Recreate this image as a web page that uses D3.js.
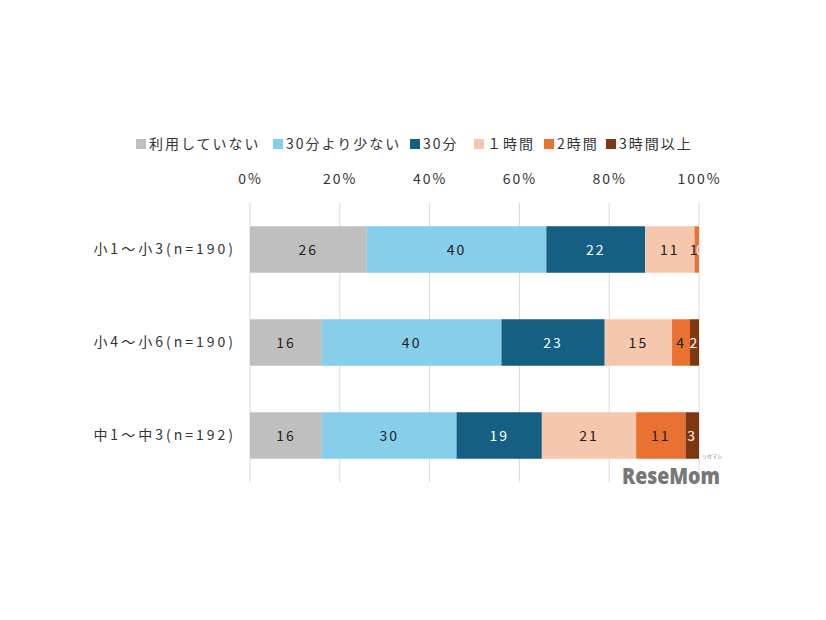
<!DOCTYPE html>
<html><head><meta charset="utf-8">
<script src="https://cdn.jsdelivr.net/npm/d3@7"></script>
<style>body{margin:0;background:#fff}</style>
</head><body>
<svg id="c" width="826" height="620"></svg>
<script>
const categories = ["小1～小3(n=190)", "小4～小6(n=190)", "中1～中3(n=192)"];
const seriesNames = ["利用していない", "30分より少ない", "30分", "１時間", "2時間", "3時間以上"];
const s0 = [26, 16, 16];
const s1 = [40, 40, 30];
const s2 = [22, 23, 19];
const s3 = [11, 15, 21];
const s4 = [1, 4, 11];
const s5 = [0, 2, 3];
const tickValues = [0, 20, 40, 60, 80, 100];
const colors = ["#bfbfbf", "#87ceeb", "#155f82", "#f5c7ad", "#e97132", "#7f3712"];
const labelColors = ["#222", "#222", "#fff", "#222", "#222", "#fff"];

const series = [s0, s1, s2, s3, s4, s5];
const data = categories.map((c, i) => {
  const o = {cat: c};
  seriesNames.forEach((n, j) => o[n] = series[j][i]);
  return o;
});
const stack = d3.stack().keys(seriesNames)(data);

const svg = d3.select("#c");
const font = "'Noto Sans CJK JP', 'Noto Sans', sans-serif";
const x = d3.scaleLinear().domain([0, 100]).range([250, 699]);
const y = d3.scaleBand().domain(categories).range([203, 482]).paddingInner(0.5).paddingOuter(0.25);

// gridlines
svg.append("g").selectAll("line").data(tickValues).join("line")
  .attr("x1", d => x(d)).attr("x2", d => x(d))
  .attr("y1", 203).attr("y2", 482)
  .attr("stroke", "#d9d9d9").attr("stroke-width", 1);

// top axis labels
const ax = d3.axisTop(x).tickValues(tickValues).tickFormat(d => d + "%").tickSize(0).tickPadding(0);
const axg = svg.append("g").attr("transform", "translate(0,184)").call(ax);
axg.select(".domain").remove();
axg.selectAll("text").attr("font-family", font).attr("font-size", 14)
  .attr("fill", "#333").attr("letter-spacing", "2px");

// bars
const layers = svg.append("g").selectAll("g").data(stack).join("g")
  .attr("fill", (d, i) => colors[i]);
layers.selectAll("rect").data(d => d).join("rect")
  .attr("x", d => x(d[0])).attr("width", d => x(d[1]) - x(d[0]))
  .attr("y", d => y(d.data.cat)).attr("height", y.bandwidth());

// value labels
stack.forEach((layer, i) => {
  svg.append("g").selectAll("text").data(layer).join("text")
    .attr("x", d => (x(d[0]) + x(d[1])) / 2 + (d[1]-d[0] < 2 ? (i === 4 ? -2 : 2) : 0))
    .attr("y", d => y(d.data.cat) + y.bandwidth() / 2)
    .attr("dy", "0.36em")
    .attr("text-anchor", "middle")
    .attr("font-family", font).attr("font-size", 14)
    .attr("letter-spacing", "2px")
    .attr("fill", labelColors[i])
    .text(d => d.data[layer.key]);
});

// category labels
const yg = svg.append("g").attr("transform", "translate(236,0)")
  .call(d3.axisLeft(y).tickSize(0).tickPadding(0));
yg.select(".domain").remove();
yg.selectAll("text").attr("font-family", font).attr("font-size", 14)
  .attr("fill", "#333").attr("letter-spacing", "3px");

// legend
const legendX = [136, 273, 410, 474, 544, 606];
const lg = svg.append("g").selectAll("g").data(seriesNames).join("g")
  .attr("transform", (d, i) => `translate(${legendX[i]},144)`);
lg.append("rect").attr("x", 0).attr("y", -5).attr("width", 10).attr("height", 10)
  .attr("fill", (d, i) => colors[i]);
lg.append("text").attr("x", 13).attr("dy", "0.36em")
  .attr("font-family", font).attr("font-size", 14).attr("fill", "#333")
  .attr("letter-spacing", "2px").text(d => d);

// watermark
svg.append("text").attr("x", 622).attr("y", 484)
  .attr("font-family", "'Open Sans', sans-serif").attr("font-weight", 800)
  .attr("font-size", 23).attr("fill", "#777")
  .attr("textLength", 98).attr("lengthAdjust", "spacingAndGlyphs")
  .text("ReseMom");
svg.append("text").attr("x", 702).attr("y", 458)
  .attr("font-family", font).attr("font-size", 5).attr("fill", "#888")
  .text("リセマム");
</script>
</body></html>
